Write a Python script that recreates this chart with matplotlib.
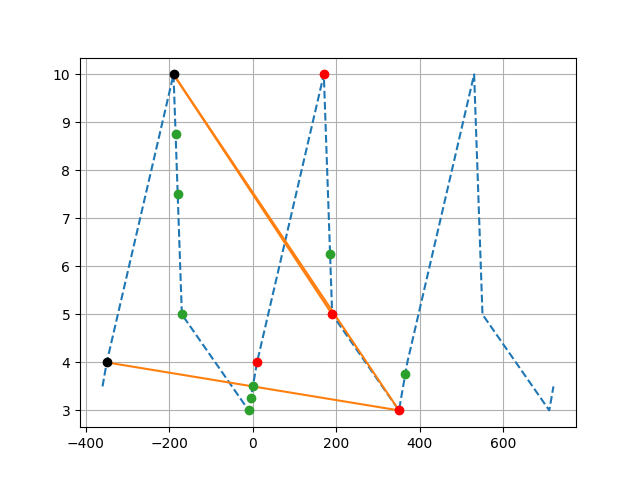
import matplotlib
matplotlib.use("Agg")
import matplotlib.pyplot as plt

# blue dashed periodic curve
curve_x = [-360, -350, -190, -170, -10, 0, 10, 170, 190, 350, 360, 370, 530, 550, 710, 720]
curve_y = [3.5, 4, 10, 5, 3, 3.5, 4, 10, 5, 3, 3.5, 4, 10, 5, 3, 3.5]

# orange connecting segments (start -> end)
seg_x0 = [-350, -190, -190]
seg_y0 = [4, 10, 10]
seg_x1 = [350, 190, 350]
seg_y1 = [3, 5, 3]

green_x = [-185, -180, -170, -10, -5, 0, 185, 365]
green_y = [8.75, 7.5, 5, 3, 3.25, 3.5, 6.25, 3.75]

red_x = [10, 170, 190, 350]
red_y = [4, 10, 5, 3]

black_x = [-350, -190]
black_y = [4, 10]

fig, ax = plt.subplots(figsize=(6.4, 4.8), dpi=100)
ax.plot(curve_x, curve_y, '--', color='C0')
for x0, y0, x1, y1 in zip(seg_x0, seg_y0, seg_x1, seg_y1):
    ax.plot([x0, x1], [y0, y1], '-', color='C1')
ax.plot(green_x, green_y, 'o', color='C2')
ax.plot(red_x, red_y, 'o', color='red')
ax.plot(black_x, black_y, 'o', color='black')
ax.grid(True)
fig.savefig('out.png')
